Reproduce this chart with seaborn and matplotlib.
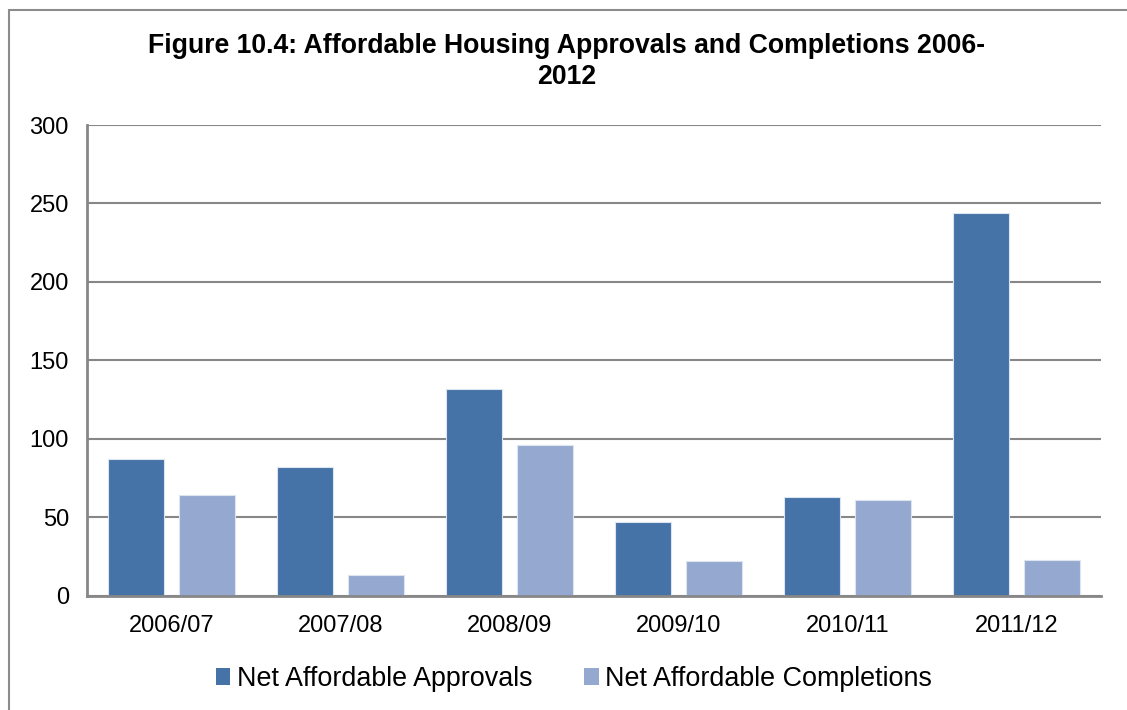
import matplotlib
matplotlib.use("Agg")
import matplotlib.pyplot as plt
import matplotlib.patches as mpatches
import seaborn as sns
import pandas as pd

# Annual figures for affordable housing
years = ["2006/07", "2007/08", "2008/09", "2009/10", "2010/11", "2011/12"]
approvals = [87, 82, 132, 47, 63, 244]
completions = [64, 13, 96, 22, 61, 23]
series_names = ["Net Affordable Approvals", "Net Affordable Completions"]
series_colors = ["#4572A7", "#95A9D0"]
y_ticks = [0, 50, 100, 150, 200, 250, 300]

df = pd.DataFrame({
    "year": years * 2,
    "value": approvals + completions,
    "series": [series_names[0]] * len(years) + [series_names[1]] * len(years),
})

sns.set_theme(style="white")
plt.rcParams["font.family"] = ["Liberation Sans", "DejaVu Sans"]
plt.rcParams["text.color"] = "black"

W, H = 1127, 710
fig = plt.figure(figsize=(W / 100, H / 100), dpi=100)
ax = fig.add_axes([87 / W, 1 - 595.7 / H, (1101 - 87) / W, (595.7 - 125) / H])

sns.barplot(
    data=df, x="year", y="value", hue="series", order=years,
    hue_order=series_names, palette=series_colors, saturation=1,
    width=0.83, gap=0.2, edgecolor="#DCE4F0", linewidth=0.8,
    legend=False, ax=ax, zorder=3,
)

ax.set_ylim(0, 300)
ax.set_xlim(-0.5, len(years) - 0.5)
ax.set_yticks(y_ticks)
ax.set_xlabel("")
ax.set_ylabel("")
ax.yaxis.grid(True, color="#878787", linewidth=1.5, zorder=0)
ax.set_axisbelow(True)
ax.tick_params(axis="both", length=0, labelsize=17, colors="black")
ax.tick_params(axis="y", pad=13)
ax.tick_params(axis="x", pad=14)

for side in ["top", "right"]:
    ax.spines[side].set_visible(False)
for side in ["left", "bottom"]:
    ax.spines[side].set_color("#878787")
    ax.spines[side].set_linewidth(2)
    ax.spines[side].set_zorder(4)

# Title across the chart area
fig.text(0.5025, 1 - 46 / H, "Figure 10.4: Affordable Housing Approvals and Completions 2006-",
         ha="center", va="center", fontsize=19.2, fontweight="bold", color="black")
fig.text(0.5025, 1 - 77 / H, "2012",
         ha="center", va="center", fontsize=19.2, fontweight="bold", color="black")

# Legend below the axis
handles = [mpatches.Patch(facecolor=c, edgecolor="none") for c in series_colors]
leg = fig.legend(handles, series_names, loc="center", bbox_to_anchor=(574 / W, 1 - 679 / H),
                 ncol=2, frameon=False, fontsize=19.4, handlelength=0.55, handleheight=0.55,
                 handletextpad=0.25, columnspacing=1.9, borderpad=0)
for t in leg.get_texts():
    t.set_color("black")

# Outer chart border (open at the right and bottom edges)
fig.add_artist(plt.Line2D([8.5 / W, 8.5 / W], [0, 1 - 10 / H], color="#8C8C8C",
                          linewidth=1.5, transform=fig.transFigure))
fig.add_artist(plt.Line2D([8.5 / W, 1], [1 - 10 / H, 1 - 10 / H], color="#8C8C8C",
                          linewidth=1.5, transform=fig.transFigure))

fig.savefig("out.png", dpi=100, facecolor="white")
